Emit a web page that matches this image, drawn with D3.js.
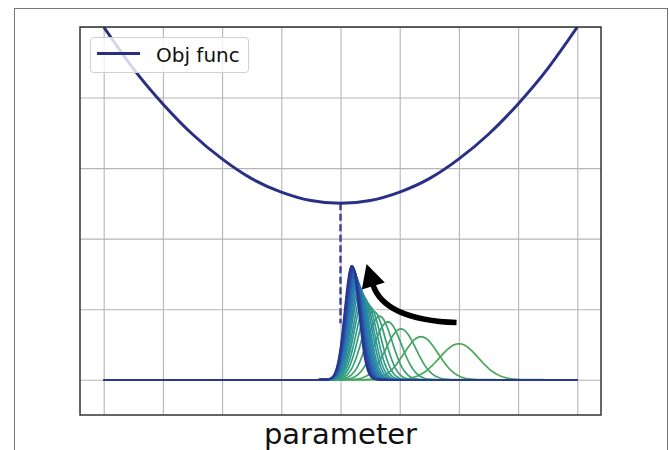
<!DOCTYPE html>
<html>
<head>
<meta charset="utf-8">
<script src="https://cdn.jsdelivr.net/npm/d3@7"></script>
<style>
  body { margin: 0; background: #fff; }
  svg { display: block; font-family: "DejaVu Sans", sans-serif; }
</style>
</head>
<body>
<div id="chart"></div>
<script>
// Tick positions (no labels shown, only grid)
const xTicks = [-4, -3, -2, -1, 0, 1, 2, 3, 4];
const yTicks = [0, 1, 2, 3, 4, 5];

// Objective function
const objX = [-4, -3.5, -3, -2.5, -2, -1.5, -1, -0.5, 0, 0.5, 1, 1.5, 2, 2.5, 3, 3.5, 4];
const objY = [5.0, 4.41, 3.91, 3.48, 3.13, 2.85, 2.66, 2.54, 2.5, 2.54, 2.66, 2.85, 3.13, 3.48, 3.91, 4.41, 5.0];

// Bell curves: centre, spread and peak height of each, from green (first) to navy (last)
const bellMean = [2.00, 1.36, 1.02, 0.80, 0.66, 0.56, 0.49, 0.44, 0.40, 0.37, 0.34, 0.32, 0.30,
                  0.285, 0.27, 0.26, 0.25, 0.24, 0.23, 0.225, 0.22, 0.21, 0.205, 0.20, 0.19];
const bellSigma = [0.33, 0.29, 0.255, 0.23, 0.21, 0.195, 0.183, 0.173, 0.165, 0.158, 0.152, 0.147, 0.143,
                   0.139, 0.136, 0.133, 0.131, 0.129, 0.127, 0.126, 0.125, 0.124, 0.123, 0.122, 0.12];
const bellHeight = [0.51, 0.61, 0.72, 0.82, 0.90, 0.97, 1.04, 1.10, 1.16, 1.21, 1.26, 1.31, 1.35,
                    1.39, 1.42, 1.45, 1.48, 1.50, 1.53, 1.55, 1.57, 1.58, 1.60, 1.61, 1.62];

// Minimum marker and arrow annotation (data coords)
const minX = 0, minY = 2.5, dashEndY = 0.8;
const arrowTail = [1.96, 0.81], arrowCtrl = [0.73, 0.85], arrowTip = [0.44, 1.64];

const W = 669, H = 450;
const plot = { left: 80, top: 27, right: 601, bottom: 415 };
const navy = "#2a2f86";

const svg = d3.select("#chart").append("svg")
  .attr("width", W)
  .attr("height", H);

// outer figure border
svg.append("rect")
  .attr("x", 14.5).attr("y", 8.5)
  .attr("width", 653).attr("height", 460)
  .attr("fill", "none")
  .attr("stroke", "#777")
  .attr("stroke-width", 1);

const x = d3.scaleLinear().domain([-4.4, 4.4]).range([plot.left, plot.right]);
const y = d3.scaleLinear().domain([-0.5, 5]).range([plot.bottom, plot.top]);

svg.append("clipPath").attr("id", "clip")
  .append("rect")
  .attr("x", plot.left).attr("y", plot.top)
  .attr("width", plot.right - plot.left).attr("height", plot.bottom - plot.top);

// grid
svg.append("g")
  .attr("transform", "translate(0," + plot.bottom + ")")
  .call(d3.axisBottom(x).tickValues(xTicks).tickSize(-(plot.bottom - plot.top)).tickFormat(""))
  .call(g => g.select(".domain").remove())
  .selectAll("line").attr("stroke", "#b5b5b5").attr("stroke-width", 1.1);

svg.append("g")
  .attr("transform", "translate(" + plot.left + ",0)")
  .call(d3.axisLeft(y).tickValues(yTicks).tickSize(-(plot.right - plot.left)).tickFormat(""))
  .call(g => g.select(".domain").remove())
  .selectAll("line").attr("stroke", "#b5b5b5").attr("stroke-width", 1.1);

const body = svg.append("g").attr("clip-path", "url(#clip)");

// dashed line at the minimum
body.append("line")
  .attr("x1", x(minX)).attr("x2", x(minX))
  .attr("y1", y(minY)).attr("y2", y(dashEndY))
  .attr("stroke", "#3b3f9a")
  .attr("stroke-width", 2.4)
  .attr("stroke-dasharray", "7,3.5");

// bell curves
const xs = d3.range(-4, 4.0001, 0.02);
const bellLine = d3.line().x(d => x(d[0])).y(d => y(d[1]));
const colour = d3.scaleLinear()
  .domain([0, 0.3, 0.6, 0.85, 1])
  .range(["#4aa955", "#2f9b87", "#2677b6", "#2a4a9e", "#283593"])
  .interpolate(d3.interpolateRgb);

bellMean.forEach((m, i) => {
  const s = bellSigma[i], h = bellHeight[i];
  const pts = xs.map(v => [v, h * Math.exp(-((v - m) * (v - m)) / (2 * s * s))]);
  body.append("path")
    .attr("d", bellLine(pts))
    .attr("fill", "none")
    .attr("stroke", colour(i / (bellMean.length - 1)))
    .attr("stroke-width", 1.7);
});

// objective function
body.append("path")
  .datum(objX.map((v, i) => [v, objY[i]]))
  .attr("d", d3.line().x(d => x(d[0])).y(d => y(d[1])).curve(d3.curveNatural))
  .attr("fill", "none")
  .attr("stroke", navy)
  .attr("stroke-width", 3);

// curved arrow
const P0 = [x(arrowTail[0]), y(arrowTail[1])];
const C = [x(arrowCtrl[0]), y(arrowCtrl[1])];
const T = [x(arrowTip[0]), y(arrowTip[1])];
const dx = T[0] - C[0], dy = T[1] - C[1], len = Math.hypot(dx, dy);
const ux = dx / len, uy = dy / len;
const headLen = 23, headHalf = 12;
const B = [T[0] - ux * headLen, T[1] - uy * headLen];

svg.append("path")
  .attr("d", `M${P0[0]},${P0[1]} Q${C[0]},${C[1]} ${B[0] + ux * 2},${B[1] + uy * 2}`)
  .attr("fill", "none")
  .attr("stroke", "#000")
  .attr("stroke-width", 5.5);

svg.append("polygon")
  .attr("points", [
    T,
    [B[0] - uy * headHalf, B[1] + ux * headHalf],
    [B[0] + uy * headHalf, B[1] - ux * headHalf]
  ].map(p => p.join(",")).join(" "))
  .attr("fill", "#000");

// legend
const legend = svg.append("g");
legend.append("rect")
  .attr("x", 90.5).attr("y", 37.5)
  .attr("width", 158).attr("height", 35)
  .attr("rx", 3)
  .attr("fill", "#fff").attr("fill-opacity", 0.8)
  .attr("stroke", "#d0d0d0");
legend.append("line")
  .attr("x1", 97).attr("x2", 140)
  .attr("y1", 53.5).attr("y2", 53.5)
  .attr("stroke", navy)
  .attr("stroke-width", 3);
legend.append("text")
  .attr("x", 156).attr("y", 62)
  .attr("font-size", "20px")
  .attr("fill", "#111")
  .text("Obj func");

// frame
svg.append("rect")
  .attr("x", plot.left).attr("y", plot.top)
  .attr("width", plot.right - plot.left).attr("height", plot.bottom - plot.top)
  .attr("fill", "none")
  .attr("stroke", "#333")
  .attr("stroke-width", 1.5);

// x label
svg.append("text")
  .attr("x", (plot.left + plot.right) / 2)
  .attr("y", 444)
  .attr("text-anchor", "middle")
  .attr("font-size", "29px")
  .attr("fill", "#111")
  .text("parameter");
</script>
</body>
</html>
